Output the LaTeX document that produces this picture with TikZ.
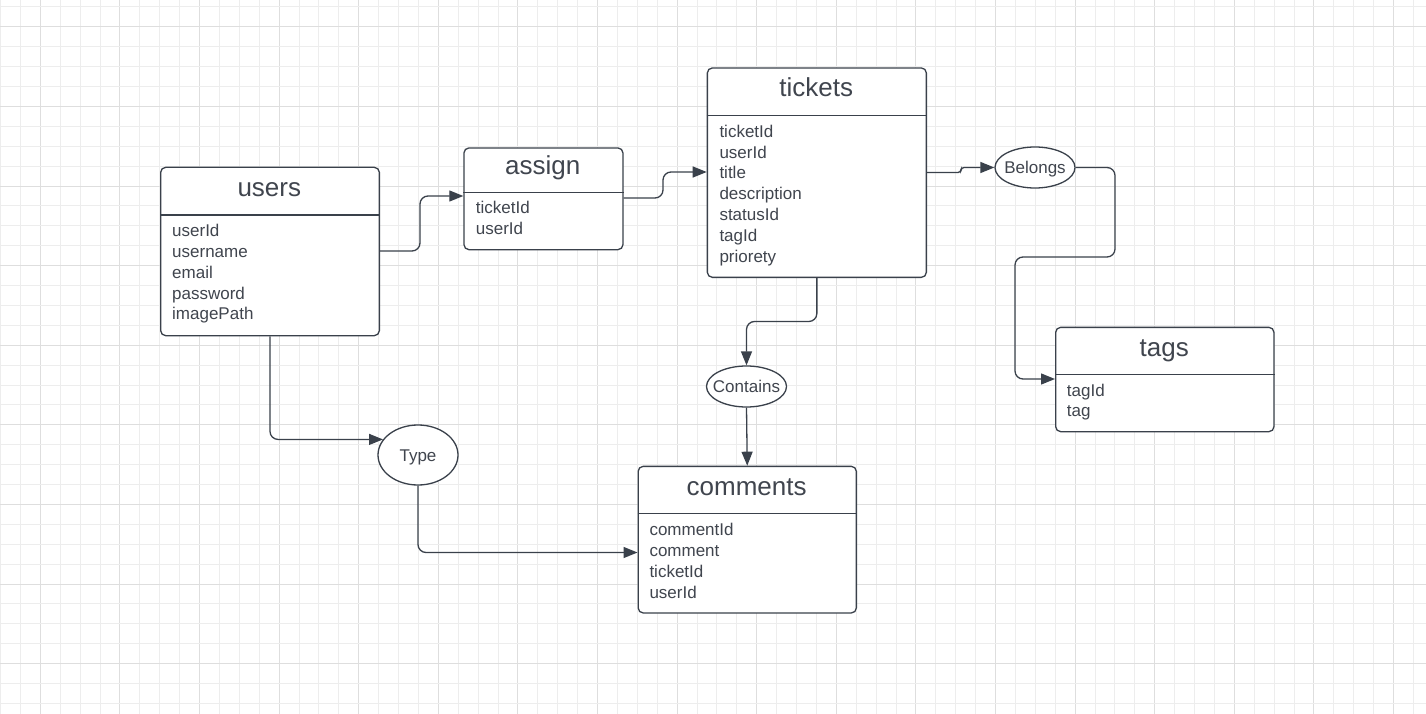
\documentclass[tikz,border=0pt]{standalone}
\usepackage{fontspec}
\setmainfont{Liberation Sans}
\usetikzlibrary{arrows.meta,shapes.geometric}
\definecolor{ink}{RGB}{58,65,75}
\definecolor{txt}{RGB}{64,69,78}
\definecolor{gridminor}{RGB}{237,237,237}
\definecolor{gridmajor}{RGB}{222,222,222}
\newcommand\tblfields[4]{%
  \foreach \f [count=\i from 0] in {#4}{\node[fld] (#1f\i) at (#2,{#3+20.8*\i}) {\f};}}
\begin{document}
\begin{tikzpicture}[x=1pt,y=-1pt,
  tbl/.style={draw=ink, line width=1.3pt, fill=white, rounded corners=5pt, anchor=north west, inner sep=0pt},
  ttl/.style={text=txt, font=\fontsize{26}{26}\selectfont, anchor=base, inner sep=0pt},
  fld/.style={text=txt, font=\fontsize{17}{17}\selectfont, anchor=base west, inner sep=0pt},
  rel/.style={draw=ink, line width=1.3pt, fill=white, ellipse, inner sep=0pt, text=txt,
    font=\fontsize{17}{17}\selectfont, text height=12.2pt, text depth=0pt},
  conn/.style={draw=ink, line width=1.3pt, rounded corners=8pt, -{Triangle[length=14pt,width=11pt]}},
  sepline/.style={draw=ink, line width=1.3pt},
  gminor/.style={draw=gridminor, line width=0.9pt},
  gmajor/.style={draw=gridmajor, line width=0.9pt}]
\useasboundingbox (0,0) rectangle (1426,714);
\fill[white] (0,0) rectangle (1426,714);
% grid
\foreach \i in {0,...,71}{%
  \pgfmathsetmacro\gx{0.5+19.9*\i}%
  \pgfmathtruncatemacro\m{mod(\i+2,4)}%
  \ifnum\m=0 \draw[gmajor] (\gx,0) -- (\gx,714);\else \draw[gminor] (\gx,0) -- (\gx,714);\fi}
\foreach \j in {0,...,35}{%
  \pgfmathsetmacro\gy{6.9+19.9*\j}%
  \pgfmathtruncatemacro\m{mod(\j+3,4)}%
  \ifnum\m=0 \draw[gmajor] (0,\gy) -- (1426,\gy);\else \draw[gminor] (0,\gy) -- (1426,\gy);\fi}

% tables
\node[tbl, minimum width=218.7pt, minimum height=168.3pt] (users) at (160,166.7) {};
\draw[sepline] ([yshift=-48.3pt]users.north west) -- ([yshift=-48.3pt]users.north east);
\node[ttl] (usersT) at (269.3,196.5) {users};
\tblfields{users}{172}{236.7}{userId,username,email,password,imagePath}

\node[tbl, minimum width=159pt, minimum height=101.7pt] (assign) at (463.3,147.3) {};
\draw[sepline] ([yshift=-45pt]assign.north west) -- ([yshift=-45pt]assign.north east);
\node[ttl] (assignT) at (542.8,175) {assign};
\tblfields{assign}{475.7}{214}{ticketId,userId}

\node[tbl, minimum width=219pt, minimum height=209.4pt] (tickets) at (706.7,67.3) {};
\draw[sepline] ([yshift=-48pt]tickets.north west) -- ([yshift=-48pt]tickets.north east);
\node[ttl] (ticketsT) at (816.2,97) {tickets};
\tblfields{tickets}{719.3}{137.3}{ticketId,userId,title,description,statusId,tagId,priorety}

\node[tbl, minimum width=218.3pt, minimum height=104.3pt] (tags) at (1055,326.7) {};
\draw[sepline] ([yshift=-47.6pt]tags.north west) -- ([yshift=-47.6pt]tags.north east);
\node[ttl] (tagsT) at (1164.2,356) {tags};
\tblfields{tags}{1066.7}{396}{tagId,tag}

\node[tbl, minimum width=218.2pt, minimum height=146.6pt] (comments) at (637.5,465.7) {};
\draw[sepline] ([yshift=-47.6pt]comments.north west) -- ([yshift=-47.6pt]comments.north east);
\node[ttl] (commentsT) at (746.6,495) {comments};
\tblfields{comments}{649.3}{535.7}{commentId,comment,ticketId,userId}

% relationships
\node[rel, minimum width=80pt, minimum height=41pt] (belongs) at (1035,167.5) {\makebox[0pt]{Belongs}};
\node[rel, minimum width=80pt, minimum height=41pt] (contains) at (746.5,386.5) {\makebox[0pt]{Contains}};
\node[rel, minimum width=80pt, minimum height=60pt] (type) at (418,455) {\makebox[0pt]{Type}};

% connectors
\coordinate (a0) at (0,251);
\coordinate (a1) at (420,196);
\draw[conn] (users.east |- a0) -| (a1) -- (assign.west |- a1);

\coordinate (b0) at (0,198);
\coordinate (b1) at (663,172);
\draw[conn] (assign.east |- b0) -| (b1) -- (tickets.west |- b1);

\coordinate (c0) at (0,172.5);
\coordinate (c1) at (961,167.5);
\draw[conn, rounded corners=3pt] (tickets.east |- c0) -| (c1) -- (belongs.west);

\coordinate (d1) at (1115,257);
\coordinate (d2) at (1015,379);
\draw[conn] (belongs.east) -| (d1) -| (d2) -- (tags.west |- d2);

\coordinate (e1) at (746.5,321.5);
\draw[conn] (tickets.south) |- (e1) -- (contains.north);

\draw[conn] (contains.south) -- (comments.north);

\draw[conn] (users.south) |- (type.156.6);

\coordinate (f1) at (0,552.5);
\draw[conn] (type.south) |- (comments.west |- f1);
\end{tikzpicture}
\end{document}
